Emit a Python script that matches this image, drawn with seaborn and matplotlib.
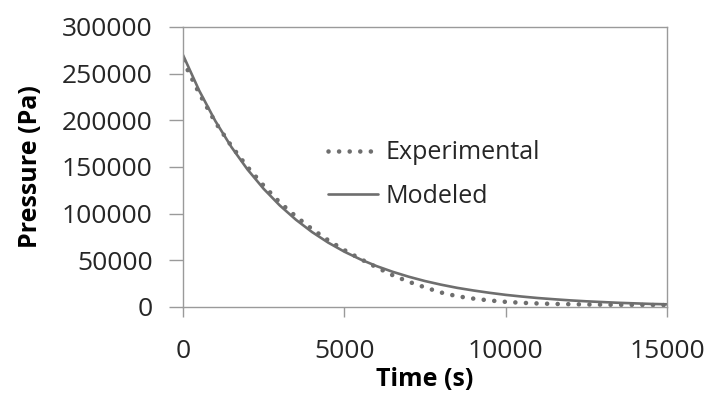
import numpy as np
import pandas as pd
import matplotlib
matplotlib.use("Agg")
import matplotlib.pyplot as plt
import seaborn as sns

# values (time in s, pressure in Pa)
time_s = [0, 500, 1000, 1500, 2000, 2500, 3000, 3500, 4000, 4500, 5000,
          5500, 6000, 6500, 7000, 7500, 8000, 8500, 9000, 9500, 10000,
          10500, 11000, 11500, 12000, 12500, 13000, 13500, 14000, 14500, 15000]
experimental = [264000, 229000, 198000, 172500, 150000, 130000, 112000, 97000,
                83500, 71500, 61000, 51500, 42500, 34000, 27000, 21000, 15500,
                11500, 9000, 7000, 5500, 4500, 3800, 3300, 3000, 2700, 2500,
                2300, 2200, 2100, 2000]
modeled = [270000, 232000, 199400, 171400, 147300, 126600, 108800, 93500,
           80300, 69000, 59300, 51000, 43800, 37700, 32400, 27800, 23900,
           20500, 17700, 15200, 13000, 11200, 9600, 8300, 7100, 6100, 5300,
           4500, 3900, 3300, 2900]

x_ticks = [0, 5000, 10000, 15000]
y_ticks = [0, 50000, 100000, 150000, 200000, 250000, 300000]

df = pd.DataFrame({"Time": time_s, "Experimental": experimental, "Modeled": modeled})

sns.set_theme(style="white")
plt.rcParams["font.family"] = ["Open Sans", "DejaVu Sans"]

line_col = "#6e6e6e"
frame_col = "#9a9a9a"

fig = plt.figure(figsize=(7.11, 3.99), dpi=100)
ax = fig.add_axes([183 / 711, 92 / 399, 484 / 711, 280 / 399])

sns.lineplot(data=df, x="Time", y="Experimental", ax=ax, color=line_col,
             lw=3.3, linestyle=(0, (0.01, 2.3)), dash_capstyle="round",
             label="Experimental")
sns.lineplot(data=df, x="Time", y="Modeled", ax=ax, color=line_col,
             lw=1.9, label="Modeled")

ax.set_xlim(0, 15000)
ax.set_ylim(0, 300000)
ax.set_xticks(x_ticks)
ax.set_yticks(y_ticks)
ax.set_xticklabels([str(v) for v in x_ticks])
ax.set_yticklabels([str(v) for v in y_ticks])

for s in ax.spines.values():
    s.set_color(frame_col)
    s.set_linewidth(1.0)

ax.tick_params(axis="y", direction="out", length=10, width=1, color=frame_col,
               pad=12, labelsize=19, labelcolor="#262626", left=True)
ax.tick_params(axis="x", direction="out", length=7, width=1, color=frame_col,
               pad=16, labelsize=19, labelcolor="#262626", bottom=True)

ax.set_xlabel("Time (s)", fontsize=18, fontweight="bold", color="black")
ax.set_ylabel("Pressure (Pa)", fontsize=18, fontweight="bold", color="black")
ax.xaxis.set_label_coords(0.5, -0.215)
ax.yaxis.set_label_coords(-0.29, 0.5)

ax.legend(loc="upper left", bbox_to_anchor=(0.30, 0.595), frameon=False,
          fontsize=18, handlelength=2.0, handletextpad=0.3, labelspacing=0.75,
          borderpad=0, borderaxespad=0, labelcolor="#262626")

fig.savefig("out.png", dpi=100)
